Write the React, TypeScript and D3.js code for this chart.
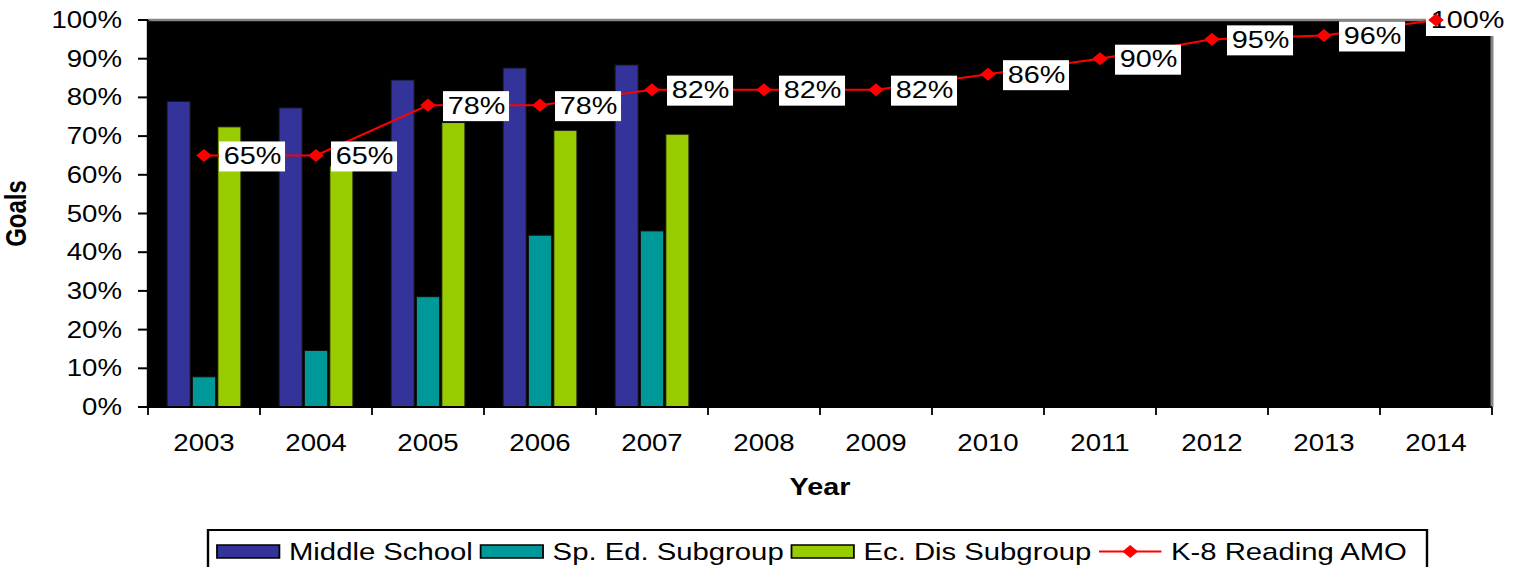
import * as React from 'react';
import {useEffect, useRef} from 'react';
import * as d3 from 'd3';

const years = ['2003', '2004', '2005', '2006', '2007', '2008', '2009', '2010', '2011', '2012', '2013', '2014'];
const middleSchool = [0.79, 0.773, 0.845, 0.876, 0.884];
const spEdSubgroup = [0.078, 0.146, 0.285, 0.444, 0.455];
const ecDisSubgroup = [0.724, 0.623, 0.735, 0.715, 0.705];
const readingAmo = [0.65, 0.65, 0.78, 0.78, 0.82, 0.82, 0.82, 0.86, 0.90, 0.95, 0.96, 1.0];
const yTickValues = [0, 0.1, 0.2, 0.3, 0.4, 0.5, 0.6, 0.7, 0.8, 0.9, 1.0];

const barSeries = [
  {name: 'Middle School', color: '#333399', values: middleSchool},
  {name: 'Sp. Ed. Subgroup', color: '#009999', values: spEdSubgroup},
  {name: 'Ec. Dis Subgroup', color: '#99CC00', values: ecDisSubgroup},
];
const lineSeries = {name: 'K-8 Reading AMO', color: '#FF0000', values: readingAmo};

const WIDTH = 1520;
const HEIGHT = 567;
// the original picture is stretched sideways, so everything is drawn narrower and scaled up
const SX = 1.2;
const FONT = '"Liberation Sans", Arial, sans-serif';

export default function App() {
  const ref = useRef<SVGSVGElement>(null);

  useEffect(() => {
    const svg = d3.select(ref.current);
    svg.selectAll('*').remove();

    const g = svg.append('g')
      .attr('transform', `scale(${SX},1)`)
      .style('font-family', FONT);

    const left = 148 / SX;
    const right = 1492 / SX;
    const top = 20;
    const bottom = 407;

    const x = d3.scaleBand<string>().domain(years).range([left, right]);
    const bw = x.bandwidth();
    const x1 = d3.scaleBand<string>()
      .domain(barSeries.map(s => s.name))
      .range([19 / SX, bw - 19 / SX])
      .paddingInner(0.08);
    const y = d3.scaleLinear().domain([0, 1]).range([bottom, top]);

    // plot area
    g.append('rect')
      .attr('x', left).attr('y', top)
      .attr('width', right - left).attr('height', bottom - top)
      .attr('fill', '#000');
    g.append('path')
      .attr('d', `M${left},${top}H${right}V${bottom}`)
      .attr('fill', 'none')
      .attr('stroke', '#858585')
      .attr('stroke-width', 2.5);

    // bars
    barSeries.forEach(s => {
      g.append('g')
        .selectAll('rect')
        .data(s.values)
        .join('rect')
        .attr('x', (d, i) => (x(years[i]) as number) + (x1(s.name) as number))
        .attr('y', d => y(d))
        .attr('width', x1.bandwidth())
        .attr('height', d => y(0) - y(d))
        .attr('fill', s.color)
        .attr('stroke', '#111')
        .attr('stroke-width', 1);
    });

    // axes
    g.append('line')
      .attr('x1', left).attr('x2', left).attr('y1', top).attr('y2', bottom)
      .attr('stroke', '#000').attr('stroke-width', 2);
    g.append('line')
      .attr('x1', left).attr('x2', right).attr('y1', bottom).attr('y2', bottom)
      .attr('stroke', '#000').attr('stroke-width', 2);

    const yAxis = g.append('g');
    yTickValues.forEach(v => {
      yAxis.append('line')
        .attr('x1', left - 10 / SX).attr('x2', left)
        .attr('y1', y(v)).attr('y2', y(v))
        .attr('stroke', '#000').attr('stroke-width', 2);
      yAxis.append('text')
        .attr('x', 122 / SX)
        .attr('y', y(v))
        .attr('dy', '0.35em')
        .attr('text-anchor', 'end')
        .style('font-size', '23px')
        .text(d3.format('.0%')(v));
    });

    const xAxis = g.append('g');
    years.concat(['']).forEach((yr, i) => {
      const tx = left + i * x.step();
      xAxis.append('line')
        .attr('x1', tx).attr('x2', tx)
        .attr('y1', bottom).attr('y2', bottom + 8)
        .attr('stroke', '#000').attr('stroke-width', 1.5);
    });
    xAxis.selectAll('text')
      .data(years)
      .join('text')
      .attr('x', d => (x(d) as number) + bw / 2)
      .attr('y', 451)
      .attr('text-anchor', 'middle')
      .style('font-size', '23px')
      .text(d => d);

    g.append('text')
      .attr('x', (left + right) / 2)
      .attr('y', 495)
      .attr('text-anchor', 'middle')
      .style('font-size', '24px')
      .style('font-weight', 'bold')
      .text('Year');

    g.append('text')
      .attr('transform', `translate(${26 / SX},${(top + bottom) / 2}) rotate(-90)`)
      .attr('text-anchor', 'middle')
      .style('font-size', '24px')
      .style('font-weight', 'bold')
      .text('Goals');

    // AMO line
    const cx = (i: number) => (x(years[i]) as number) + bw / 2;
    const line = d3.line<number>()
      .x((d, i) => cx(i))
      .y(d => y(d));
    g.append('path')
      .datum(lineSeries.values)
      .attr('d', line)
      .attr('fill', 'none')
      .attr('stroke', lineSeries.color)
      .attr('stroke-width', 2);

    // data labels with white boxes, kept inside the picture on the right
    const maxRight = 1508 / SX;
    const labels = g.append('g')
      .selectAll('g')
      .data(lineSeries.values)
      .join('g');
    labels.each(function(d, i) {
      const lg = d3.select(this);
      const rect = lg.append('rect').attr('fill', '#fff');
      const t = lg.append('text')
        .attr('x', 4)
        .attr('dy', '0.35em')
        .style('font-size', '24px')
        .text(d3.format('.0%')(d));
      const w = (t.node() as SVGTextElement).getComputedTextLength();
      const boxW = w + 7;
      const bx = Math.min(cx(i) + 12.5, maxRight - boxW);
      lg.attr('transform', `translate(${bx},${y(d)})`);
      rect.attr('x', 0).attr('y', -14).attr('width', boxW).attr('height', 30);
    });

    const marker = d3.symbol(d3.symbolSquare, 85);
    g.append('g')
      .selectAll('path')
      .data(lineSeries.values)
      .join('path')
      .attr('transform', (d, i) => `translate(${cx(i)},${y(d)}) rotate(45)`)
      .attr('d', marker)
      .attr('fill', lineSeries.color);

    // legend
    const legendTop = 530;
    g.append('rect')
      .attr('x', 208 / SX).attr('y', legendTop)
      .attr('width', (1427 - 208) / SX).attr('height', 45)
      .attr('fill', '#fff')
      .attr('stroke', '#000')
      .attr('stroke-width', 2);

    let lx = 217 / SX;
    const swW = 52;
    const items = [...barSeries.map(s => ({...s, kind: 'bar'})), {...lineSeries, kind: 'line'}];
    items.forEach(item => {
      if (item.kind === 'bar') {
        g.append('rect')
          .attr('x', lx).attr('y', 545)
          .attr('width', swW).attr('height', 13)
          .attr('fill', item.color)
          .attr('stroke', '#000')
          .attr('stroke-width', 1.5);
      } else {
        g.append('line')
          .attr('x1', lx).attr('x2', lx + swW)
          .attr('y1', 551.5).attr('y2', 551.5)
          .attr('stroke', item.color).attr('stroke-width', 2);
        g.append('path')
          .attr('transform', `translate(${lx + swW / 2},551.5) rotate(45)`)
          .attr('d', marker)
          .attr('fill', item.color);
      }
      const t = g.append('text')
        .attr('x', lx + swW + 8)
        .attr('y', 560)
        .style('font-size', '24.4px')
        .text(item.name);
      const w = (t.node() as SVGTextElement).getComputedTextLength();
      lx = lx + swW + 8 + w + 6.5;
    });
  }, []);

  return (
    <svg
      ref={ref}
      width={WIDTH}
      height={HEIGHT}
      style={{position: 'absolute', left: 0, top: 0, display: 'block', background: '#fff'}}
    />
  );
}
